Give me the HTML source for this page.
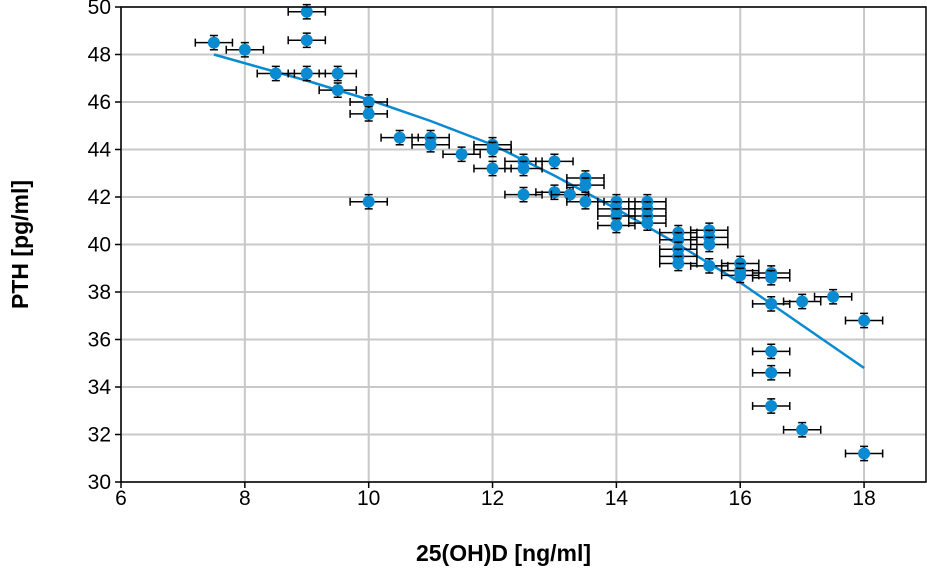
<!DOCTYPE html>
<html><head><meta charset="utf-8"><style>
html,body{margin:0;padding:0;background:#fff;}
svg{display:block;font-family:"Liberation Sans",sans-serif;}
</style></head><body>
<svg id="chart" width="927" height="576"></svg>
<script>
const xs=[7.5,8,8.5,9,9,9,9.5,9.5,10,10,10,10.5,11,11,11.5,12,12,12,12.5,12.5,12.5,13,13,13.25,13.5,13.5,13.5,14,14,14,14,14.5,14.5,14.5,14.5,15,15,15,15,15,15.5,15.5,15.5,15.5,16,16,16,16.5,16.5,16.5,17,17.5,18,16.5,16.5,16.5,17,18];
const ys=[48.5,48.2,47.2,49.8,48.6,47.2,47.2,46.5,46.0,45.5,41.8,44.5,44.5,44.2,43.8,44.2,44.0,43.2,43.5,43.2,42.1,43.5,42.2,42.1,42.8,42.5,41.8,41.8,41.5,41.2,40.8,41.8,41.5,41.2,40.9,40.5,40.2,39.8,39.5,39.2,40.6,40.3,40.0,39.1,39.2,38.9,38.7,38.8,38.6,37.5,37.6,37.8,36.8,35.5,34.6,33.2,32.2,31.2];
const fitX=[7.5,9,10,11,12,13,14,15,16,17,18];
const fitY=[48.0,46.9,46.1,45.2,44.2,42.9,41.5,40.0,38.4,36.6,34.8];
const xTicks=[6,8,10,12,14,16,18];
const yTicks=[30,32,34,36,38,40,42,44,46,48,50];
const X0=121,X1=926,Y0=482,Y1=7;
const sx=v=>X0+(v-6)/13*(X1-X0);
const sy=v=>Y0-(v-30)/20*(Y0-Y1);
const svg=document.getElementById('chart');
const NS='http://www.w3.org/2000/svg';
function mk(t,a,p){const e=document.createElementNS(NS,t);for(const k in a)e.setAttribute(k,a[k]);(p||svg).appendChild(e);return e;}
const grid=mk('g',{});


xTicks.forEach(t=>{mk('line',{x1:sx(t),x2:sx(t),y1:Y1,y2:Y0,stroke:'#c8c8c8','stroke-width':2},grid);});
yTicks.forEach(t=>{mk('line',{x1:X0,x2:X1,y1:sy(t),y2:sy(t),stroke:'#c8c8c8','stroke-width':2},grid);});
const xa=mk('g',{});


xTicks.forEach(t=>{mk('line',{x1:sx(t),x2:sx(t),y1:Y0,y2:Y0+6,stroke:'#000','stroke-width':1.5},xa);
 const tx=mk('text',{x:sx(t),y:Y0+23,'text-anchor':'middle','font-size':21},xa);tx.textContent=t;});
const ya=mk('g',{});


yTicks.forEach(t=>{mk('line',{x1:X0-6,x2:X0,y1:sy(t),y2:sy(t),stroke:'#000','stroke-width':1.5},ya);
 const tx=mk('text',{x:X0-10,y:sy(t)+7,'text-anchor':'end','font-size':21},ya);tx.textContent=t;});
const fl=mk('polyline',{points:fitX.map((x,i)=>sx(x)+','+sy(fitY[i])).join(' '),fill:'none',stroke:'#0a8ad0','stroke-width':2.5});


const pts=mk('g',{});


const ex=0.3,ey=0.3;
xs.forEach((x,i)=>{const y=ys[i];const g=mk('g',{stroke:'#000','stroke-width':1.5},pts);
 
 
 mk('line',{x1:sx(x-ex),x2:sx(x+ex),y1:sy(y),y2:sy(y)},g);
 mk('line',{x1:sx(x-ex),x2:sx(x-ex),y1:sy(y)-4,y2:sy(y)+4},g);
 mk('line',{x1:sx(x+ex),x2:sx(x+ex),y1:sy(y)-4,y2:sy(y)+4},g);
 mk('line',{x1:sx(x),x2:sx(x),y1:sy(y-ey),y2:sy(y+ey)},g);
 mk('line',{x1:sx(x)-4,x2:sx(x)+4,y1:sy(y-ey),y2:sy(y-ey)},g);
 mk('line',{x1:sx(x)-4,x2:sx(x)+4,y1:sy(y+ey),y2:sy(y+ey)},g);
 mk('circle',{cx:sx(x),cy:sy(y),r:6,fill:'#0a8ad0',stroke:'none'},g);});
const fr=mk('rect',{x:X0,y:Y1,width:X1-X0,height:Y0-Y1,fill:'none',stroke:'#000','stroke-width':1.5});


const xt=mk('text',{x:(X0+X1)/2-20,y:561,'text-anchor':'middle','font-size':23,'font-weight':'bold'});
xt.textContent='25(OH)D [ng/ml]';


const yt=mk('text',{x:0,y:0,'text-anchor':'middle','font-size':23,'font-weight':'bold',transform:'translate(28,'+(Y0+Y1)/2+') rotate(-90)'});
yt.textContent='PTH [pg/ml]';


</script>
</body></html>
